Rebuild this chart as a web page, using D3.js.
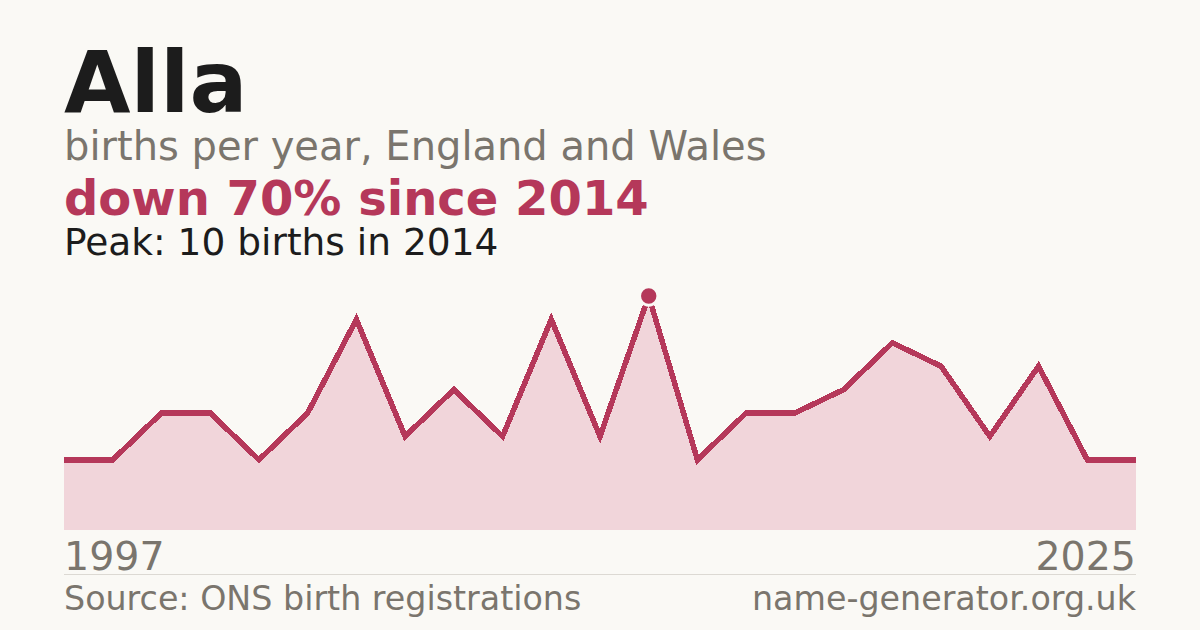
<!DOCTYPE html>
<html>
<head>
<meta charset="utf-8">
<script src="https://cdnjs.cloudflare.com/ajax/libs/d3/7.8.5/d3.min.js"></script>
<style>
  html, body { margin: 0; padding: 0; background: #faf9f5; }
  svg { display: block; font-family: "DejaVu Sans", sans-serif; }
</style>
</head>
<body>
<svg id="chart" width="1200" height="630"></svg>
<script>
// Years with reported births (ONS suppresses counts under 3)
const years = [1997, 1998, 2000, 2001, 2002, 2004, 2005, 2006, 2008, 2009, 2011, 2012,
               2014, 2015, 2016, 2017, 2018, 2019, 2021, 2022, 2023, 2024, 2025];
const births = [3, 3, 5, 5, 3, 5, 9, 4, 6, 4, 9, 4,
                10, 3, 5, 5, 6, 8, 7, 4, 7, 3, 3];
const axisLabels = ["1997", "2025"];

const name = "Alla";
const subtitle = "births per year, England and Wales";
const headline = "down 70% since 2014";
const peakNote = "Peak: 10 births in 2014";
const source = "Source: ONS birth registrations";
const site = "name-generator.org.uk";

const red = "#b5385a";
const grey = "#7a756d";

const svg = d3.select("#chart");
const left = 64, right = 1136;

svg.append("rect").attr("width", 1200).attr("height", 630).attr("fill", "#faf9f5");

// header texts
svg.append("text").attr("x", left).attr("y", 112)
  .style("font-size", "86px").style("font-weight", "bold").attr("fill", "#1c1c1c")
  .text(name);
svg.append("text").attr("x", left).attr("y", 160)
  .style("font-size", "40px").attr("fill", grey)
  .text(subtitle);
svg.append("text").attr("x", left).attr("y", 215)
  .style("font-size", "48px").style("font-weight", "bold").attr("fill", red)
  .text(headline);
svg.append("text").attr("x", left).attr("y", 255)
  .style("font-size", "37.5px").attr("fill", "#1c1c1c")
  .text(peakNote);

// scales
const data = years.map((y, i) => ({ year: y, value: births[i] }));
const x = d3.scalePoint().domain(years).range([left, right]);
const y = d3.scaleLinear().domain([0, d3.max(births)]).range([530, 296]);

const area = d3.area()
  .x(d => x(d.year))
  .y0(y(0))
  .y1(d => y(d.value));
const line = d3.line()
  .x(d => x(d.year))
  .y(d => y(d.value));

svg.append("path").datum(data)
  .attr("d", area)
  .attr("fill", "#f1d5da");

svg.append("path").datum(data)
  .attr("d", line)
  .attr("fill", "none")
  .attr("stroke", red)
  .attr("stroke-width", 5.5)
  .attr("stroke-linejoin", "miter")
  .attr("shape-rendering", "crispEdges");

// peak marker
const peak = data[d3.maxIndex(births)];
svg.append("circle")
  .attr("cx", x(peak.year)).attr("cy", y(peak.value))
  .attr("r", 9.2)
  .attr("fill", red)
  .attr("stroke", "#faf9f5")
  .attr("stroke-width", 3);

// first / last year labels
svg.append("text").attr("x", left).attr("y", 570)
  .style("font-size", "39.5px").attr("fill", grey)
  .text(axisLabels[0]);
svg.append("text").attr("x", right).attr("y", 570)
  .attr("text-anchor", "end")
  .style("font-size", "39.5px").attr("fill", grey)
  .text(axisLabels[1]);

// footer rule and texts
svg.append("line")
  .attr("x1", left).attr("x2", right)
  .attr("y1", 574.5).attr("y2", 574.5)
  .attr("stroke", "#dcd9d3").attr("stroke-width", 1);

svg.append("text").attr("x", left).attr("y", 610)
  .style("font-size", "33.3px").attr("fill", grey)
  .text(source);
svg.append("text").attr("x", right).attr("y", 610)
  .attr("text-anchor", "end")
  .style("font-size", "33.3px").attr("fill", grey)
  .text(site);
</script>
</body>
</html>
